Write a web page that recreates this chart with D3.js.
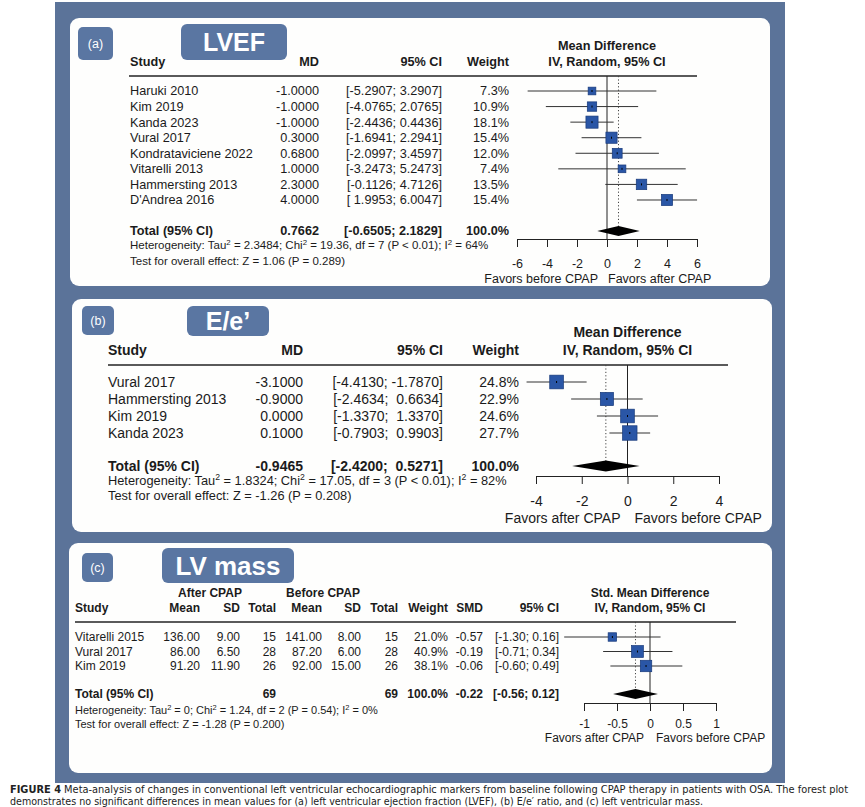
<!DOCTYPE html>
<html><head><meta charset="utf-8">
<script src="https://cdn.jsdelivr.net/npm/d3@7"></script>
<style>
html,body{margin:0;padding:0;background:#fff;}
svg{display:block;font-family:"Liberation Sans",Arial,Helvetica,sans-serif;}
text{white-space:pre;}
</style></head><body>
<svg id="c" width="865" height="807"></svg>
<script>
// ---------- DATA ----------
// (a) LVEF
const lvefStudies = ["Haruki 2010","Kim 2019","Kanda 2023","Vural 2017","Kondrataviciene 2022","Vitarelli 2013","Hammersting 2013","D'Andrea 2016"];
const lvefMD = [-1.0, -1.0, -1.0, 0.3, 0.68, 1.0, 2.3, 4.0];
const lvefLower = [-5.2907, -4.0765, -2.4436, -1.6941, -2.0997, -3.2473, -0.1126, 1.9953];
const lvefUpper = [3.2907, 2.0765, 0.4436, 2.2941, 3.4597, 5.2473, 4.7126, 6.0047];
const lvefWeight = [7.3, 10.9, 18.1, 15.4, 12.0, 7.4, 13.5, 15.4];
const lvefTotal = [0.7662, -0.6505, 2.1829];
const lvefTicks = [-6, -4, -2, 0, 2, 4, 6];
const lvefHet = "Heterogeneity: Tau^2 = 2.3484; Chi^2 = 19.36, df = 7 (P < 0.01); I^2 = 64%";
const lvefTest = "Test for overall effect: Z = 1.06 (P = 0.289)";
const lvefFavors = ["Favors before CPAP", "Favors after CPAP"];

// (b) E/e'
const eeStudies = ["Vural 2017","Hammersting 2013","Kim 2019","Kanda 2023"];
const eeMD = [-3.1, -0.9, 0.0, 0.1];
const eeLower = [-4.4130, -2.4634, -1.3370, -0.7903];
const eeUpper = [-1.7870, 0.6634, 1.3370, 0.9903];
const eeWeight = [24.8, 22.9, 24.6, 27.7];
const eeTotal = [-0.9465, -2.4200, 0.5271];
const eeTicks = [-4, -2, 0, 2, 4];
const eeHet = "Heterogeneity: Tau^2 = 1.8324; Chi^2 = 17.05, df = 3 (P < 0.01); I^2 = 82%";
const eeTest = "Test for overall effect: Z = -1.26 (P = 0.208)";
const eeFavors = ["Favors after CPAP", "Favors before CPAP"];

// (c) LV mass
const lvmStudies = ["Vitarelli 2015","Vural 2017","Kim 2019"];
const lvmAfterMean = [136.00, 86.00, 91.20];
const lvmAfterSD = [9.00, 6.50, 11.90];
const lvmAfterN = [15, 28, 26];
const lvmBeforeMean = [141.00, 87.20, 92.00];
const lvmBeforeSD = [8.00, 6.00, 15.00];
const lvmBeforeN = [15, 28, 26];
const lvmWeight = [21.0, 40.9, 38.1];
const lvmSMD = [-0.57, -0.19, -0.06];
const lvmLower = [-1.30, -0.71, -0.60];
const lvmUpper = [0.16, 0.34, 0.49];
const lvmTotal = [-0.22, -0.56, 0.12];
const lvmTotalN = [69, 69];
const lvmTicks = [-1, -0.5, 0, 0.5, 1];
const lvmHet = "Heterogeneity: Tau^2 = 0; Chi^2 = 1.24, df = 2 (P = 0.54); I^2 = 0%";
const lvmTest = "Test for overall effect: Z = -1.28 (P = 0.200)";
const lvmFavors = ["Favors after CPAP", "Favors before CPAP"];

const captionLines = [
  ["FIGURE 4", " Meta-analysis of changes in conventional left ventricular echocardiographic markers from baseline following CPAP therapy in patients with OSA. The forest plot"],
  ["", "demonstrates no significant differences in mean values for (a) left ventricular ejection fraction (LVEF), (b) E/e\u2032 ratio, and (c) left ventricular mass."]
];

// ---------- DRAWING ----------
const BLUE = "#5b7399", TAGBLUE = "#5a76a2", SQ = "#2a56a6", SQS = "#17397a", INK = "#1b1b1b";
const svg = d3.select("#c");
svg.append("rect").attr("x",55).attr("y",2).attr("width",730).attr("height",781).attr("fill",BLUE);

const loc = d3.formatLocale({decimal: ".", thousands: ",", grouping: [3], currency: ["", ""], minus: "-"});
const f4 = loc.format(".4f"), f2 = loc.format(".2f"), f1 = loc.format(".1f");
function ciStr(lo, hi, fmt, padLo, padHi) {
  const a = (lo >= 0 && padLo ? " " : "") + fmt(lo);
  const b = (hi >= 0 && padHi ? " " : "") + fmt(hi);
  return "[" + a + "; " + b + "]";
}
function supText(g, str, x, y, fs) {
  const t = g.append("text").attr("x", x).attr("y", y).attr("font-size", fs).attr("fill", INK);
  const parts = str.split("^2");
  const sh = fs * 0.38;
  parts.forEach((p, i) => {
    const ts = t.append("tspan").text(p);
    if (i > 0) ts.attr("dy", sh);
    if (i < parts.length - 1) t.append("tspan").attr("dy", -sh).attr("font-size", fs * 0.68).text("2");
  });
  return t;
}
function txt(g, s, x, y, fs, anchor, bold) {
  return g.append("text").attr("x", x).attr("y", y).attr("font-size", fs)
    .attr("text-anchor", anchor || "start").attr("font-weight", bold ? "bold" : "normal")
    .attr("fill", INK).text(s);
}

function drawPanel(p) {
  const g = svg.append("g");
  g.append("rect").attr("x", p.box[0]).attr("y", p.box[1]).attr("width", p.box[2]-p.box[0])
    .attr("height", p.box[3]-p.box[1]).attr("rx", 9).attr("fill", "#fefefd");
  // tag
  g.append("rect").attr("x", p.tag[0]).attr("y", p.tag[1]).attr("width", p.tag[2]-p.tag[0])
    .attr("height", p.tag[3]-p.tag[1]).attr("rx", 5).attr("fill", TAGBLUE);
  g.append("text").attr("x", (p.tag[0]+p.tag[2])/2).attr("y", (p.tag[1]+p.tag[3])/2 + 4.5)
    .attr("text-anchor","middle").attr("font-size", 12.5).attr("fill","#fff").text(p.tagText);
  // title
  g.append("rect").attr("x", p.title[0]).attr("y", p.title[1]).attr("width", p.title[2]-p.title[0])
    .attr("height", p.title[3]-p.title[1]).attr("rx", 6).attr("fill", TAGBLUE);
  g.append("text").attr("x", (p.title[0]+p.title[2])/2).attr("y", (p.title[1]+p.title[3])/2 + p.titleFs*0.36)
    .attr("text-anchor","middle").attr("font-size", p.titleFs).attr("font-weight", "bold")
    .attr("fill","#fff").text(p.titleText);

  const x = d3.scaleLinear().domain(p.domain).range(p.range);
  // headers
  p.headers.forEach(h => txt(g, h[0], h[1] === "zero" ? x(0) : h[1], h[2], p.fs, h[3], true));
  // header line
  g.append("line").attr("x1", p.line[1]).attr("x2", p.line[2]).attr("y1", p.line[0]).attr("y2", p.line[0])
    .attr("stroke", "#5a5a5a").attr("stroke-width", 1.8);
  // columns
  const rowY = i => p.row0 + i * p.rowStep;
  p.cols.forEach(c => {
    c.vals.forEach((v, i) => txt(g, v, c.x, rowY(i) + p.fs*0.35, p.fs, c.anchor, false));
    if (c.total !== null && c.total !== undefined) txt(g, c.total, c.x, p.totalY + p.fs*0.35, p.fs, c.anchor, true);
  });
  // zero line and pooled dotted line
  g.append("line").attr("x1", x(0)).attr("x2", x(0)).attr("y1", p.line[0]).attr("y2", p.axisY)
    .attr("stroke", "#222").attr("stroke-width", 1);
  g.append("line").attr("x1", x(p.total[0])).attr("x2", x(p.total[0])).attr("y1", p.line[0]).attr("y2", p.totalY)
    .attr("stroke", "#444").attr("stroke-width", 1).attr("stroke-dasharray", "1.2,2.2");
  // studies
  p.md.forEach((m, i) => {
    const y = rowY(i);
    g.append("line").attr("x1", x(p.lo[i])).attr("x2", x(p.hi[i])).attr("y1", y).attr("y2", y)
      .attr("stroke", "#333").attr("stroke-width", 1);
    const s = p.k * Math.sqrt(p.w[i]);
    g.append("rect").attr("x", x(m) - s/2).attr("y", y - s/2).attr("width", s).attr("height", s)
      .attr("fill", SQ).attr("stroke", SQS).attr("stroke-width", 0.7);
    g.append("line").attr("x1", x(m)).attr("x2", x(m)).attr("y1", y - 1).attr("y2", y + 1)
      .attr("stroke", "#000").attr("stroke-width", 1);
  });
  // diamond
  const ty = p.totalY, dh = p.dh;
  g.append("path").attr("d", d3.line()([[x(p.total[1]), ty],[x(p.total[0]), ty - dh],[x(p.total[2]), ty],[x(p.total[0]), ty + dh]]) + "Z")
    .attr("fill", "#000");
  // axis
  const ax = g.append("g").attr("transform", `translate(0,${p.axisY})`)
    .call(d3.axisBottom(x).tickValues(p.ticks).tickSize(8).tickSizeOuter(0).tickPadding(p.tickPad).tickFormat(d => String(d)));
  ax.select(".domain").attr("stroke", "#222");
  ax.selectAll(".tick line").attr("stroke", "#222");
  ax.selectAll("text").attr("font-size", p.tfs).attr("font-family", "'Liberation Sans', Arial, sans-serif").attr("fill", INK);
  // favors
  txt(g, p.favors[0], x(0) + p.favOff[0], p.favY, p.tfs, "end", false);
  txt(g, p.favors[1], x(0) + p.favOff[1], p.favY, p.tfs, "start", false);
  // heterogeneity
  supText(g, p.het, p.hetX, p.hetY[0], p.hfs);
  supText(g, p.test, p.hetX, p.hetY[1], p.hfs);
}

// Panel (a)
drawPanel({
  box: [70, 18, 770, 286], tag: [78, 27, 113, 60], tagText: "(a)",
  title: [181, 24, 287, 60], titleText: "LVEF", titleFs: 25,
  fs: 12.7, tfs: 12.5, hfs: 11.5,
  domain: [-6, 6], range: [517, 697], ticks: lvefTicks, axisY: 239, tickPad: 12,
  headers: [["Study", 130, 65.5, "start"], ["MD", 319, 65.5, "end"], ["95% CI", 442, 65.5, "end"],
            ["Weight", 509, 65.5, "end"], ["Mean Difference", "zero", 49.5, "middle"], ["IV, Random, 95% CI", "zero", 65.5, "middle"]],
  line: [76, 129, 697],
  row0: 91, rowStep: 15.57, totalY: 231,
  cols: [
    {x: 130, anchor: "start", vals: lvefStudies, total: "Total (95% CI)"},
    {x: 319, anchor: "end", vals: lvefMD.map(f4), total: f4(lvefTotal[0])},
    {x: 442, anchor: "end", vals: lvefLower.map((l, i) => ciStr(l, lvefUpper[i], f4, true, false)), total: ciStr(lvefTotal[1], lvefTotal[2], f4, true, false)},
    {x: 509, anchor: "end", vals: lvefWeight.map(w => f1(w) + "%"), total: "100.0%"}
  ],
  md: lvefMD, lo: lvefLower, hi: lvefUpper, w: lvefWeight, total: lvefTotal, k: 2.85, dh: 5,
  favors: lvefFavors, favOff: [-9, 1], favY: 283,
  het: lvefHet, test: lvefTest, hetX: 130, hetY: [249, 265]
});

// Panel (b)
drawPanel({
  box: [72, 299, 772, 532], tag: [82, 306, 114, 335], tagText: "(b)",
  title: [187, 306, 269, 336], titleText: "E/e\u2019", titleFs: 25,
  fs: 14, tfs: 14, hfs: 12.8,
  domain: [-4, 4], range: [536, 719], ticks: eeTicks, axisY: 476, tickPad: 12,
  headers: [["Study", 108, 355, "start"], ["MD", 303, 355, "end"], ["95% CI", 443, 355, "end"],
            ["Weight", 519, 355, "end"], ["Mean Difference", "zero", 337, "middle"], ["IV, Random, 95% CI", "zero", 355, "middle"]],
  line: [365, 108, 728],
  row0: 382, rowStep: 17, totalY: 466,
  cols: [
    {x: 108, anchor: "start", vals: eeStudies, total: "Total (95% CI)"},
    {x: 303, anchor: "end", vals: eeMD.map(f4), total: f4(eeTotal[0])},
    {x: 443, anchor: "end", vals: eeLower.map((l, i) => ciStr(l, eeUpper[i], f4, true, true)), total: ciStr(eeTotal[1], eeTotal[2], f4, true, true)},
    {x: 519, anchor: "end", vals: eeWeight.map(w => f1(w) + "%"), total: "100.0%"}
  ],
  md: eeMD, lo: eeLower, hi: eeUpper, w: eeWeight, total: eeTotal, k: 2.75, dh: 5.5,
  favors: eeFavors, favOff: [-7, 7], favY: 523,
  het: eeHet, test: eeTest, hetX: 108, hetY: [485, 500]
});

// Panel (c)
drawPanel({
  box: [69, 543, 772, 773], tag: [82, 553, 113, 582], tagText: "(c)",
  title: [162, 548, 294, 583], titleText: "LV mass", titleFs: 26,
  fs: 12, tfs: 12, hfs: 11,
  domain: [-1, 1], range: [584, 716], ticks: lvmTicks, axisY: 703, tickPad: 8,
  headers: [["After CPAP", 210, 597, "middle"], ["Before CPAP", 323, 597, "middle"],
            ["Study", 75, 612, "start"], ["Mean", 200, 612, "end"], ["SD", 240, 612, "end"], ["Total", 276, 612, "end"],
            ["Mean", 322, 612, "end"], ["SD", 361, 612, "end"], ["Total", 398, 612, "end"],
            ["Weight", 448, 612, "end"], ["SMD", 483, 612, "end"], ["95% CI", 559, 612, "end"],
            ["Std. Mean Difference", "zero", 597, "middle"], ["IV, Random, 95% CI", "zero", 612, "middle"]],
  line: [622, 75, 736],
  row0: 637, rowStep: 14.5, totalY: 694,
  cols: [
    {x: 75, anchor: "start", vals: lvmStudies, total: "Total (95% CI)"},
    {x: 200, anchor: "end", vals: lvmAfterMean.map(f2), total: null},
    {x: 240, anchor: "end", vals: lvmAfterSD.map(f2), total: null},
    {x: 276, anchor: "end", vals: lvmAfterN.map(String), total: String(lvmTotalN[0])},
    {x: 322, anchor: "end", vals: lvmBeforeMean.map(f2), total: null},
    {x: 361, anchor: "end", vals: lvmBeforeSD.map(f2), total: null},
    {x: 398, anchor: "end", vals: lvmBeforeN.map(String), total: String(lvmTotalN[1])},
    {x: 448, anchor: "end", vals: lvmWeight.map(w => f1(w) + "%"), total: "100.0%"},
    {x: 483, anchor: "end", vals: lvmSMD.map(f2), total: f2(lvmTotal[0])},
    {x: 559, anchor: "end", vals: lvmLower.map((l, i) => ciStr(l, lvmUpper[i], f2, false, false)), total: ciStr(lvmTotal[1], lvmTotal[2], f2, false, false)}
  ],
  md: lvmSMD, lo: lvmLower, hi: lvmUpper, w: lvmWeight, total: lvmTotal, k: 1.85, dh: 5,
  favors: lvmFavors, favOff: [-6, 6], favY: 742,
  het: lvmHet, test: lvmTest, hetX: 75, hetY: [714, 728]
});

// Caption
const capW = [838, 693], capY = [793, 805];
captionLines.forEach((ln, i) => {
  const t = svg.append("text").attr("x", 10).attr("y", capY[i]).attr("font-size", 11)
    .attr("font-family", "'Liberation Sans Narrow', 'DejaVu Sans Condensed', 'Liberation Sans', sans-serif")
    .attr("fill", "#222").attr("textLength", capW[i]).attr("lengthAdjust", "spacingAndGlyphs");
  if (ln[0]) t.append("tspan").attr("font-weight", "bold").text(ln[0]);
  t.append("tspan").text(ln[1]);
});
</script>
</body></html>
